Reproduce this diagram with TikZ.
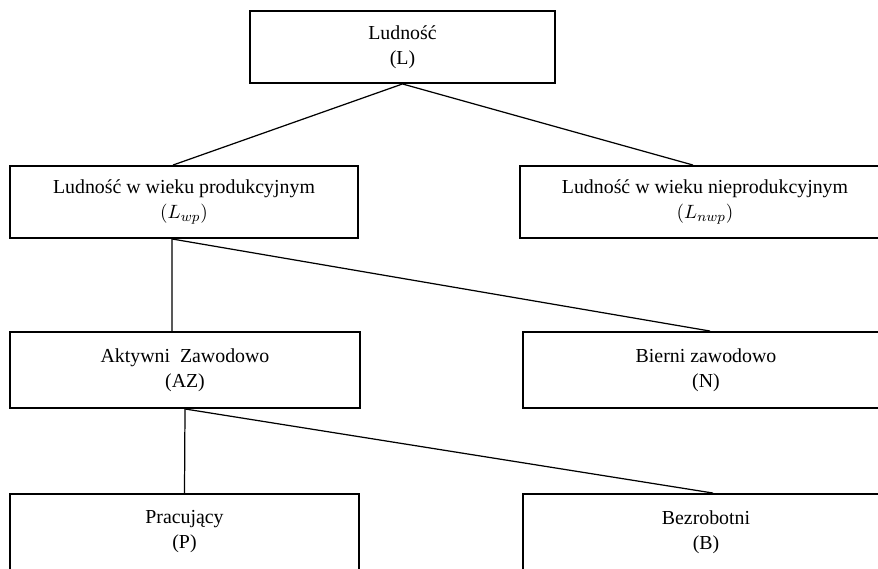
\documentclass[tikz,border=0pt]{standalone}
\usepackage{fontspec}
\setmainfont{Liberation Serif}
\usepackage{amsmath}
\usetikzlibrary{positioning,calc}
\tikzset{font=\fontsize{11.3}{14.2}\selectfont}
\tikzset{box/.style={draw, line width=1.1pt, align=center, inner sep=1pt},
	link/.style={line width=0.7pt}}

\begin{document}
\begin{tikzpicture}[x=0.02cm, y=-0.02cm]
	\clip (0,0) rectangle (878,568);
	\begin{scope}
		\tikzstyle{every node}=[box]
		\node[minimum width=6.1cm, minimum height=1.44cm] (L) at (402.5, 47) {Ludność\\(L)};
		\node[minimum width=6.96cm, minimum height=1.44cm] (Lwp) at (184, 202) {Ludność w wieku produkcyjnym\\$(L_{wp})$};
		\node[minimum width=7.4cm, minimum height=1.44cm] (Lnwp) at (705, 202) {Ludność w wieku nieprodukcyjnym\\$(L_{nwp})$};
		\node[minimum width=7cm, minimum height=1.52cm] (AZ) at (185, 370) {Aktywni\ \ Zawodowo\\(AZ)};
		\node[minimum width=7.32cm, minimum height=1.52cm] (N) at (706, 370) {Bierni zawodowo\\(N)};
		\node[minimum width=6.98cm, minimum height=1.52cm] (P) at (184.5, 532) {Pracujący\\(P)};
		\node[minimum width=7.32cm, minimum height=1.52cm] (B) at (706, 532) {Bezrobotni\\(B)};

		\draw[link] (L.south) -- ([xshift=-0.22cm]Lwp.north);
		\draw[link] (L.south) -- ([xshift=-0.24cm]Lnwp.north);
		\draw[link] ([xshift=-0.24cm]Lwp.south) -- ([xshift=-0.26cm]AZ.north);
		\draw[link] ([xshift=-0.24cm]Lwp.south) -- ([xshift=0.08cm]N.north);
		\draw[link] (AZ.south) -- (P.north);
		\draw[link] (AZ.south) -- ([xshift=0.14cm]B.north);
	\end{scope}
\end{tikzpicture}
\end{document}
